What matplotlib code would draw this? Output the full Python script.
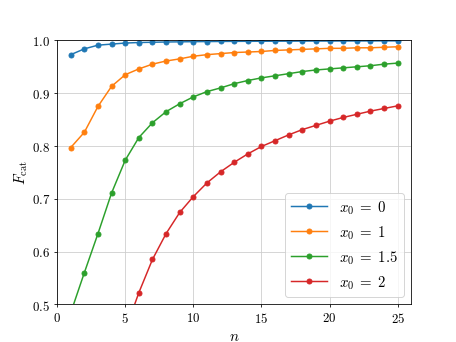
import numpy as np
import matplotlib
matplotlib.use("Agg")
import matplotlib.pyplot as plt

plt.rcParams["font.family"] = "serif"
plt.rcParams["font.serif"] = ["cmr10"]
plt.rcParams["mathtext.fontset"] = "cm"
plt.rcParams["axes.formatter.use_mathtext"] = True

n = np.arange(1, 26)

# x0 = 0
f_x0_0 = [0.973, 0.984, 0.991, 0.993, 0.995, 0.996, 0.9965, 0.997, 0.9973, 0.9976,
          0.9978, 0.998, 0.9982, 0.9983, 0.9984, 0.9985, 0.9986, 0.9987, 0.9988, 0.9988,
          0.9989, 0.999, 0.999, 0.9991, 0.9991]
# x0 = 1
f_x0_1 = [0.797, 0.826, 0.875, 0.913, 0.935, 0.946, 0.955, 0.961, 0.965, 0.970,
          0.973, 0.975, 0.977, 0.978, 0.979, 0.981, 0.982, 0.983, 0.984, 0.985,
          0.985, 0.986, 0.986, 0.987, 0.988]
# x0 = 1.5
f_x0_15 = [0.484, 0.560, 0.634, 0.711, 0.773, 0.816, 0.844, 0.865, 0.880, 0.893,
           0.903, 0.910, 0.918, 0.924, 0.929, 0.933, 0.937, 0.941, 0.944, 0.946,
           0.948, 0.950, 0.952, 0.955, 0.957]
# x0 = 2
f_x0_2 = [0.08, 0.17, 0.27, 0.36, 0.45, 0.522, 0.585, 0.634, 0.674, 0.704,
          0.730, 0.751, 0.769, 0.785, 0.799, 0.810, 0.821, 0.831, 0.839, 0.847,
          0.854, 0.860, 0.866, 0.871, 0.876]

series = [f_x0_0, f_x0_1, f_x0_15, f_x0_2]
labels = [r"$x_0 \;=\; 0$", r"$x_0 \;=\; 1$", r"$x_0 \;=\; 1.5$", r"$x_0 \;=\; 2$"]

fig, ax = plt.subplots(figsize=(6.4, 4.8), dpi=71.4)

for vals, lab in zip(series, labels):
    ax.plot(n, vals, marker="o", markersize=5, linewidth=1.5, label=lab)

ax.set_xlim(0, 26)
ax.set_ylim(0.5, 1.0)
ax.set_xticks([0, 5, 10, 15, 20, 25])
ax.set_yticks([0.5, 0.6, 0.7, 0.8, 0.9, 1.0])
ax.tick_params(labelsize=13)
ax.grid(True, color="#cccccc")
ax.set_xlabel(r"$n$", fontsize=15)
ax.set_ylabel(r"$F_{\mathrm{cat}}$", fontsize=15, labelpad=2)
ax.legend(loc="lower right", fontsize=15, handlelength=2.4)

plt.savefig("out.png", dpi=71.4)
plt.close()
